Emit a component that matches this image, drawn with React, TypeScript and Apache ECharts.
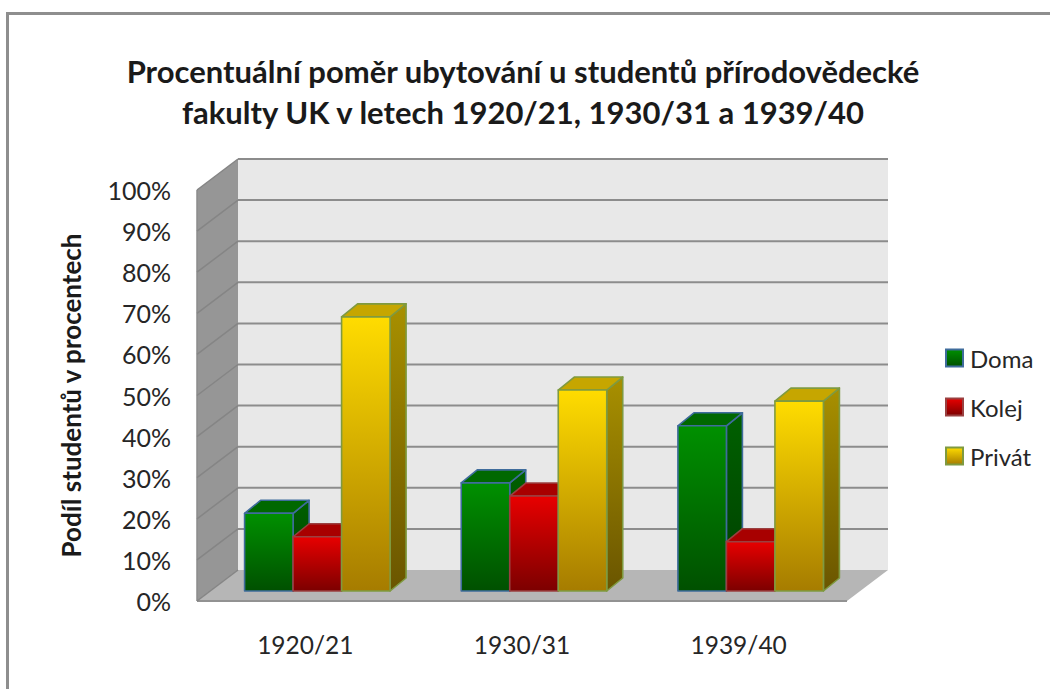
import React, { useEffect, useRef } from "react";
import * as echarts from "echarts";

const titleText = "Procentuální poměr ubytování u studentů přírodovědecké\nfakulty UK v letech 1920/21, 1930/31 a 1939/40";
const yAxisTitle = "Podíl studentů v procentech";
const categories = ["1920/21", "1930/31", "1939/40"];
const doma = [18.9, 26.3, 40.2];
const kolej = [13.2, 23.1, 12.0];
const privat = [66.7, 48.9, 46.2];
const valueTicks = [0, 10, 20, 30, 40, 50, 60, 70, 80, 90, 100];

const FONT = "Lato, 'Noto Sans', sans-serif";
const DX = 41, DY = -31;          // wall depth
const BDX = 16, BDY = -13;        // bar depth
const BAR_W = 48.5;
const BAR_SHIFT_X = 12, BAR_SHIFT_Y = -10;

const vgrad = (a: string, b: string) =>
  new echarts.graphic.LinearGradient(0, 0, 0, 1, [
    { offset: 0, color: a },
    { offset: 1, color: b },
  ]);

function bars(slot: number, front: [string, string], side: [string, string], top: string, border: string) {
  return (_params: any, api: any) => {
    const cat = api.value(0);
    const val = api.value(1);
    const base = api.coord([cat, 0]);
    const peak = api.coord([cat, val]);
    const x0 = base[0] + BAR_SHIFT_X + (slot - 1.5) * BAR_W;
    const x1 = x0 + BAR_W;
    const y0 = base[1] + BAR_SHIFT_Y;
    const y1 = peak[1] + BAR_SHIFT_Y;
    const stroke = { stroke: border, lineWidth: 1.6, lineJoin: "round" };
    return {
      type: "group",
      children: [
        { type: "polygon", shape: { points: [[x1, y1], [x1 + BDX, y1 + BDY], [x1 + BDX, y0 + BDY], [x1, y0]] }, style: { fill: vgrad(side[0], side[1]), ...stroke } },
        { type: "polygon", shape: { points: [[x0, y1], [x0 + BDX, y1 + BDY], [x1 + BDX, y1 + BDY], [x1, y1]] }, style: { fill: top, ...stroke } },
        { type: "rect", shape: { x: x0, y: y1, width: BAR_W, height: y0 - y1 }, style: { fill: vgrad(front[0], front[1]), ...stroke } },
      ],
    };
  };
}

function walls(params: any, api: any) {
  const c = params.coordSys;
  const L = c.x, R = c.x + c.width;
  const B = api.coord([0, 0])[1], T = api.coord([0, 100])[1];
  return {
    type: "group",
    children: [
      { type: "polygon", shape: { points: [[L + DX, T + DY], [R + DX, T + DY], [R + DX, B + DY], [L + DX, B + DY]] }, style: { fill: "#e8e8e8" } },
      { type: "polygon", shape: { points: [[L, T], [L + DX, T + DY], [L + DX, B + DY], [L, B]] }, style: { fill: "#969696" } },
      { type: "polygon", shape: { points: [[L, B], [L + DX, B + DY], [R + DX, B + DY], [R, B]] }, style: { fill: "#b6b6b6" } },
      { type: "line", shape: { x1: L, y1: B, x2: R, y2: B }, style: { stroke: "#929292", lineWidth: 2 } },
      { type: "line", shape: { x1: L, y1: T, x2: L, y2: B }, style: { stroke: "#8b8b8b", lineWidth: 1.5 } },
    ],
  };
}

function gridLines(params: any, api: any) {
  const c = params.coordSys;
  const L = c.x, R = c.x + c.width;
  const y = api.coord([0, api.value(0)])[1];
  const isFloor = api.value(0) === 0;
  return {
    type: "group",
    children: [
      { type: "line", shape: { x1: L, y1: y, x2: L + DX, y2: y + DY }, style: { stroke: "#858585", lineWidth: 1.5 } },
      ...(isFloor ? [] : [{ type: "line", shape: { x1: L + DX, y1: y + DY, x2: R + DX, y2: y + DY }, style: { stroke: "#8c8c8c", lineWidth: 2 } }]),
    ],
  };
}

const seriesDefs = [
  { name: "Doma", values: doma, front: ["#009000", "#005000"] as [string, string], side: ["#006000", "#003f00"] as [string, string], top: "#006800", border: "#3f6c9c" },
  { name: "Kolej", values: kolej, front: ["#e80000", "#7c0000"] as [string, string], side: ["#a00000", "#600000"] as [string, string], top: "#a80000", border: "#9a4040" },
  { name: "Privát", values: privat, front: ["#ffdc00", "#a67c00"] as [string, string], side: ["#a89000", "#6a5500"] as [string, string], top: "#c6a600", border: "#7f9a40" },
];

export default function App() {
  const ref = useRef<HTMLDivElement>(null);
  useEffect(() => {
    document.body.style.margin = "0";
    const chart = echarts.init(ref.current!, undefined, { renderer: "svg" });
    chart.setOption({
      animation: false,
      backgroundColor: "#ffffff",
      title: {
        text: titleText,
        left: 518,
        top: 45,
        textAlign: "center",
        textStyle: { fontFamily: FONT, fontSize: 31, fontWeight: "bold", color: "#1a1a1a", lineHeight: 41 },
      },
      legend: {
        orient: "vertical",
        left: 940,
        top: 341,
        icon: "rect",
        itemWidth: 17,
        itemHeight: 17,
        itemGap: 25,
        data: seriesDefs.map((s) => s.name),
        textStyle: { fontFamily: FONT, fontSize: 24, color: "#262626", padding: [0, 0, 0, 2] },
      },
      grid: { left: 197, top: 190, width: 650, height: 411, containLabel: false },
      xAxis: {
        type: "category",
        data: categories,
        axisLine: { show: false },
        axisTick: { show: false },
        axisLabel: { margin: 31, fontFamily: FONT, fontSize: 24.5, color: "#262626" },
      },
      yAxis: {
        type: "value",
        min: 0,
        max: 100,
        interval: 10,
        name: yAxisTitle,
        nameLocation: "middle",
        nameGap: 113,
        nameTextStyle: { fontFamily: FONT, fontSize: 26, fontWeight: "bold", color: "#1a1a1a" },
        axisLine: { show: false },
        axisTick: { show: false },
        splitLine: { show: false },
        axisLabel: { margin: 26, formatter: "{value}%", fontFamily: FONT, fontSize: 25, color: "#262626", padding: [0, 0, 2, 0] },
      },
      series: [
        { type: "custom", name: "walls", silent: true, data: [[0]], renderItem: walls, clip: false, encode: { y: 0 }, z: 1 },
        { type: "custom", name: "grid", silent: true, data: valueTicks.map((t) => [t]), renderItem: gridLines, clip: false, encode: { y: 0 }, z: 1 },
        ...seriesDefs.map((s) => ({
          type: "custom",
          name: s.name,
          data: s.values.map((v, i) => [i, v]),
          encode: { x: 0, y: 1 },
          clip: false,
          z: 2,
          itemStyle: { color: vgrad(s.front[0], s.front[1]), borderColor: s.border, borderWidth: 2 },
          renderItem: bars(seriesDefs.indexOf(s), s.front, s.side, s.top, s.border),
        })),
      ],
      graphic: [
        {
          type: "polyline",
          shape: { points: [[7.5, 689], [7.5, 13.5], [1050, 13.5]] },
          style: { stroke: "#8e8e8e", lineWidth: 3, fill: "none" },
          silent: true,
        },
      ],
    });
    return () => chart.dispose();
  }, []);
  return <div ref={ref} style={{ position: "fixed", left: 0, top: 0, width: 1050, height: 689 }} />;
}
